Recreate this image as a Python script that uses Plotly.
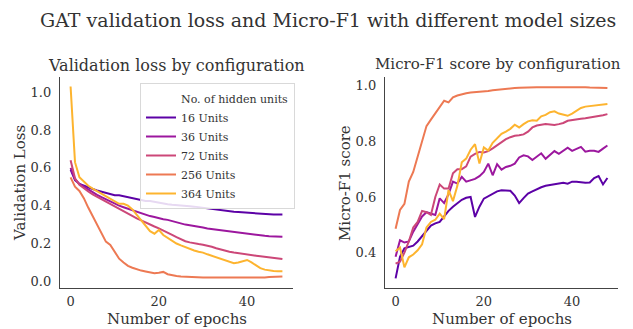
import plotly.graph_objects as go

epochs = list(range(49))
series_names = ["16 Units", "36 Units", "72 Units", "256 Units", "364 Units"]
colors = ["#5c01a6", "#9c179e", "#cc4778", "#ed7953", "#fdb42f"]

loss_16 = [0.59, 0.535, 0.515, 0.505, 0.495, 0.488, 0.48, 0.473, 0.466, 0.46, 0.455, 0.455, 0.45, 0.445, 0.44, 0.436, 0.432, 0.425, 0.425, 0.42, 0.415, 0.412, 0.408, 0.405, 0.402, 0.4, 0.398, 0.397, 0.395, 0.392, 0.388, 0.384, 0.38, 0.377, 0.375, 0.372, 0.37, 0.368, 0.366, 0.364, 0.362, 0.36, 0.358, 0.357, 0.356, 0.355, 0.354, 0.354, 0.354]
loss_36 = [0.6, 0.54, 0.515, 0.5, 0.485, 0.47, 0.457, 0.445, 0.433, 0.422, 0.41, 0.4, 0.392, 0.384, 0.375, 0.368, 0.36, 0.352, 0.345, 0.34, 0.333, 0.328, 0.325, 0.318, 0.31, 0.305, 0.3, 0.297, 0.294, 0.29, 0.285, 0.28, 0.277, 0.273, 0.27, 0.267, 0.263, 0.26, 0.256, 0.253, 0.25, 0.248, 0.245, 0.243, 0.241, 0.239, 0.237, 0.236, 0.236]
loss_72 = [0.64, 0.545, 0.51, 0.49, 0.475, 0.46, 0.447, 0.435, 0.423, 0.41, 0.397, 0.383, 0.37, 0.357, 0.345, 0.333, 0.322, 0.31, 0.3, 0.29, 0.28, 0.27, 0.258, 0.246, 0.234, 0.222, 0.212, 0.206, 0.2, 0.197, 0.194, 0.19, 0.183, 0.175, 0.168, 0.162, 0.157, 0.153, 0.149, 0.145, 0.142, 0.139, 0.136, 0.133, 0.13, 0.127, 0.123, 0.12, 0.118]
loss_256 = [0.55, 0.5, 0.478, 0.44, 0.39, 0.345, 0.295, 0.25, 0.21, 0.193, 0.155, 0.12, 0.1, 0.082, 0.072, 0.063, 0.057, 0.052, 0.047, 0.043, 0.046, 0.05, 0.038, 0.032, 0.029, 0.026, 0.024, 0.022, 0.021, 0.021, 0.02, 0.02, 0.02, 0.019, 0.02, 0.022, 0.02, 0.019, 0.019, 0.019, 0.019, 0.02, 0.019, 0.021, 0.021, 0.023, 0.025, 0.026, 0.026]
loss_364 = [1.03, 0.63, 0.55, 0.525, 0.505, 0.49, 0.477, 0.462, 0.447, 0.435, 0.422, 0.41, 0.41, 0.4, 0.38, 0.35, 0.32, 0.29, 0.265, 0.252, 0.272, 0.245, 0.23, 0.215, 0.2, 0.19, 0.18, 0.17, 0.163, 0.157, 0.152, 0.143, 0.135, 0.125, 0.117, 0.108, 0.1, 0.096, 0.1, 0.108, 0.113, 0.1, 0.085, 0.07, 0.062, 0.057, 0.055, 0.054, 0.054]

f1_16 = [0.307, 0.385, 0.415, 0.42, 0.425, 0.44, 0.46, 0.48, 0.497, 0.505, 0.51, 0.53, 0.55, 0.565, 0.577, 0.59, 0.597, 0.6, 0.528, 0.565, 0.594, 0.603, 0.612, 0.62, 0.624, 0.623, 0.622, 0.605, 0.578, 0.596, 0.612, 0.62, 0.628, 0.635, 0.64, 0.643, 0.646, 0.648, 0.651, 0.648, 0.655, 0.655, 0.653, 0.651, 0.652, 0.668, 0.675, 0.645, 0.668]
f1_36 = [0.385, 0.444, 0.436, 0.44, 0.475, 0.505, 0.53, 0.545, 0.54, 0.535, 0.595, 0.578, 0.61, 0.655, 0.648, 0.672, 0.655, 0.66, 0.665, 0.675, 0.69, 0.72, 0.678, 0.718, 0.698, 0.708, 0.712, 0.72, 0.742, 0.75, 0.746, 0.733, 0.745, 0.757, 0.737, 0.75, 0.765, 0.755, 0.765, 0.777, 0.766, 0.772, 0.78, 0.763, 0.766, 0.766, 0.762, 0.774, 0.785]
f1_72 = [0.36, 0.367, 0.4, 0.44, 0.49, 0.51, 0.55, 0.545, 0.535, 0.6, 0.645, 0.63, 0.63, 0.685, 0.7, 0.7, 0.71, 0.745, 0.755, 0.762, 0.76, 0.765, 0.775, 0.787, 0.797, 0.808, 0.815, 0.82, 0.822, 0.825, 0.835, 0.85, 0.857, 0.86, 0.862, 0.861, 0.859, 0.862, 0.866, 0.874, 0.877, 0.88, 0.881, 0.883, 0.885, 0.888, 0.891, 0.894, 0.898]
f1_256 = [0.486, 0.553, 0.575, 0.655, 0.69, 0.745, 0.8, 0.855, 0.878, 0.9, 0.925, 0.946, 0.94, 0.958, 0.965, 0.97, 0.973, 0.976, 0.977, 0.978, 0.979, 0.981, 0.984, 0.986, 0.988, 0.99, 0.991, 0.992, 0.993, 0.994, 0.995, 0.995, 0.995, 0.995, 0.995, 0.995, 0.996, 0.996, 0.996, 0.996, 0.997, 0.996, 0.995, 0.995, 0.994, 0.993, 0.992, 0.992, 0.992]
f1_364 = [0.405, 0.418, 0.347, 0.383, 0.393, 0.408, 0.43, 0.49, 0.51, 0.518, 0.54, 0.52, 0.625, 0.585, 0.64, 0.725, 0.738, 0.77, 0.79, 0.72, 0.778, 0.767, 0.795, 0.81, 0.827, 0.835, 0.845, 0.86, 0.85, 0.862, 0.872, 0.876, 0.874, 0.89, 0.895, 0.905, 0.908, 0.9, 0.895, 0.892, 0.9, 0.91, 0.92, 0.925, 0.927, 0.928, 0.93, 0.932, 0.934]

loss_series = [loss_16, loss_36, loss_72, loss_256, loss_364]
f1_series = [f1_16, f1_36, f1_72, f1_256, f1_364]

main_title = "GAT validation loss and Micro-F1 with different model sizes"
left_title = "Validation loss by configuration"
right_title = "Micro-F1 score by configuration"
legend_title = "No. of hidden units"
x_label = "Number of epochs"
y_label_left = "Validation Loss"
y_label_right = "Micro-F1 score"

FONT = "DejaVu Serif"
TXT = "#333333"
OFF = 8  # the page body margin shifts the figure by this many pixels
W, H = 633 - OFF, 329 - OFF

fig = go.Figure()

# dummy legend entry acting as the hue title
fig.add_trace(go.Scatter(x=[None], y=[None], mode="lines", name=legend_title,
                         line=dict(color="rgba(0,0,0,0)", width=2),
                         xaxis="x", yaxis="y", showlegend=True))

for name, col, ys in zip(series_names, colors, loss_series):
    fig.add_trace(go.Scatter(x=epochs, y=ys, mode="lines", name=name,
                             line=dict(color=col, width=2),
                             xaxis="x", yaxis="y", showlegend=True))
for name, col, ys in zip(series_names, colors, f1_series):
    fig.add_trace(go.Scatter(x=epochs, y=ys, mode="lines", name=name,
                             line=dict(color=col, width=2),
                             xaxis="x2", yaxis="y2", showlegend=False))

def px_x(p):
    return (p - OFF) / W

def px_y(p):
    return 1 - (p - OFF) / H

base = dict(showline=True, linecolor="#444444", linewidth=1.3, showgrid=False,
            zeroline=False, ticks="outside", tickcolor="rgba(0,0,0,0)",
            automargin=False, tickfont=dict(family=FONT, size=13, color=TXT))

ydom = [px_y(288), px_y(77)]
fig.update_layout(
    width=W, height=H,
    margin=dict(l=0, r=0, t=0, b=0),
    paper_bgcolor="white", plot_bgcolor="white",
    font=dict(family=FONT, color=TXT),
    xaxis=dict(domain=[px_x(60), px_x(293)], range=[-2.4, 50.4], tickvals=[0, 20, 40],
               anchor="y", ticklen=1, **base),
    yaxis=dict(domain=ydom, range=[-0.035, 1.08], tickvals=[0, 0.2, 0.4, 0.6, 0.8, 1.0],
               tickformat=".1f", anchor="x", ticklen=5, **base),
    xaxis2=dict(domain=[px_x(385), px_x(618)], range=[-2.4, 50.4], tickvals=[0, 20, 40],
                anchor="y2", ticklen=1, **base),
    yaxis2=dict(domain=ydom, range=[0.2725, 1.0315], tickvals=[0.4, 0.6, 0.8, 1.0],
                tickformat=".1f", anchor="x2", ticklen=5, **base),
    legend=dict(x=px_x(140), y=px_y(83), xanchor="left", yanchor="top",
                bgcolor="rgba(255,255,255,0.85)", bordercolor="#d9d9d9", borderwidth=1,
                font=dict(family=FONT, size=11, color=TXT), tracegroupgap=0),
    showlegend=True,
)

def note(text, x, y, size, angle=0):
    fig.add_annotation(text=text, x=px_x(x), y=px_y(y), xref="paper", yref="paper",
                       showarrow=False, xanchor="center", yanchor="middle", textangle=angle,
                       font=dict(family=FONT, size=size, color=TXT))

note(main_title, 328, 20, 19)
note(left_title, 176.5, 65, 16)
note(right_title, 498, 64, 15)
note(x_label, 177, 319, 15)
note(x_label, 501.5, 319, 15)
note(y_label_left, 20, 183, 15, -90)
note(y_label_right, 345, 183, 15, -90)

fig.write_html("out.html")
